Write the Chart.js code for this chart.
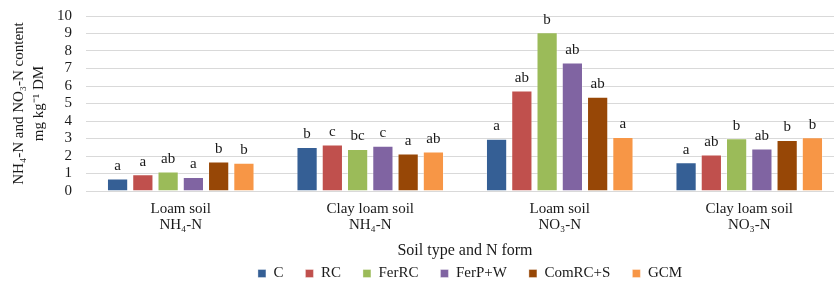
<!DOCTYPE html>
<html>
<head>
<meta charset="utf-8">
<script src="https://cdn.jsdelivr.net/npm/chart.js@4.4.1/dist/chart.umd.min.js"></script>
<style>
  html, body { margin: 0; padding: 0; background: #fff; overflow: hidden; }
  #wrap { width: 940px; height: 281px; }
</style>
</head>
<body>
<div id="wrap"><canvas id="barChart" width="940" height="281"></canvas></div>
<script>
// categories (x axis) and treatments (series)
var categories = [
    ['Loam soil', 'NH\u2084-N'],
    ['Clay loam soil', 'NH\u2084-N'],
    ['Loam soil', 'NO\u2083-N'],
    ['Clay loam soil', 'NO\u2083-N']
];
var seriesNames = ['C', 'RC', 'FerRC', 'FerP+W', 'ComRC+S', 'GCM'];

// values, mg kg-1 DM
var valC      = [0.71, 2.52, 2.98, 1.64];
var valRC     = [0.96, 2.66, 5.75, 2.08];
var valFerRC  = [1.11, 2.40, 9.07, 3.02];
var valFerPW  = [0.80, 2.58, 7.35, 2.43];
var valComRCS = [1.68, 2.14, 5.38, 2.92];
var valGCM    = [1.62, 2.26, 3.09, 3.07];

// significance letters above bars
var letC      = ['a', 'b', 'a', 'a'];
var letRC     = ['a', 'c', 'ab', 'ab'];
var letFerRC  = ['ab', 'bc', 'b', 'b'];
var letFerPW  = ['a', 'c', 'ab', 'ab'];
var letComRCS = ['b', 'a', 'ab', 'b'];
var letGCM    = ['b', 'ab', 'a', 'b'];

var yMin = 0, yMax = 10, yStep = 1;

var colors = ['#355F95', '#C0504D', '#9BBB59', '#8064A2', '#974706', '#F79646'];
var values = [valC, valRC, valFerRC, valFerPW, valComRCS, valGCM];
var letters = [letC, letRC, letFerRC, letFerPW, letComRCS, letGCM];

var FONT = 'Liberation Serif, Times New Roman, serif';
var TXT = '#1a1a1a';

var datasets = seriesNames.map(function (name, i) {
    return {
        label: name,
        data: values[i],
        backgroundColor: colors[i],
        borderColor: 'rgba(255,255,255,0.35)',
        borderWidth: 1,
        categoryPercentage: 0.8,
        barPercentage: 0.84
    };
});

// draws the letters above each bar
var letterPlugin = {
    id: 'letters',
    afterDatasetsDraw: function (chart) {
        var ctx = chart.ctx;
        ctx.save();
        ctx.font = '15px ' + FONT;
        ctx.fillStyle = TXT;
        ctx.textAlign = 'center';
        ctx.textBaseline = 'bottom';
        chart.data.datasets.forEach(function (ds, i) {
            chart.getDatasetMeta(i).data.forEach(function (bar, j) {
                ctx.fillText(letters[i][j], bar.x, bar.y - 5);
            });
        });
        ctx.restore();
    }
};

var ctx = document.getElementById('barChart').getContext('2d');
var myChart = new Chart(ctx, {
    type: 'bar',
    data: {
        labels: categories,
        datasets: datasets
    },
    options: {
        responsive: false,
        animation: false,
        layout: { padding: { top: 16, bottom: -10, left: 0, right: 0 } },
        plugins: {
            tooltip: { enabled: false },
            legend: {
                position: 'bottom',
                labels: {
                    boxWidth: 8,
                    boxHeight: 8,
                    padding: 22,
                    color: TXT,
                    font: { family: FONT, size: 15 }
                }
            }
        },
        scales: {
            x: {
                grid: { display: false },
                border: { display: false },
                ticks: {
                    color: TXT,
                    padding: 2,
                    maxRotation: 0,
                    autoSkip: false,
                    font: { family: FONT, size: 15, lineHeight: 1.07 }
                },
                title: {
                    display: true,
                    text: 'Soil type and N form',
                    color: TXT,
                    padding: { top: 0, bottom: -16 },
                    font: { family: FONT, size: 16 }
                },
                afterFit: function (s) { s.height = 53; }
            },
            y: {
                min: yMin,
                max: yMax,
                grid: {
                    color: '#d9d9d9',
                    lineWidth: 1,
                    drawTicks: true,
                    tickLength: 14,
                    tickColor: 'rgba(0,0,0,0)'
                },
                border: { display: false },
                ticks: {
                    stepSize: yStep,
                    autoSkip: false,
                    color: TXT,
                    padding: 0,
                    font: { family: FONT, size: 15 }
                },
                title: {
                    display: true,
                    text: ['NH\u2084-N and NO\u2083-N content', 'mg kg\u207B\u00B9 DM'],
                    color: TXT,
                    padding: { top: 10, bottom: 0 },
                    font: { family: FONT, size: 15, lineHeight: 1.27 }
                },
                afterFit: function (s) { s.width = 86; }
            },
            yRight: {
                position: 'right',
                grid: { display: false },
                border: { display: false },
                ticks: { display: false },
                afterFit: function (s) { s.width = 96; }
            }
        }
    },
    plugins: [letterPlugin]
});
</script>
</body>
</html>
